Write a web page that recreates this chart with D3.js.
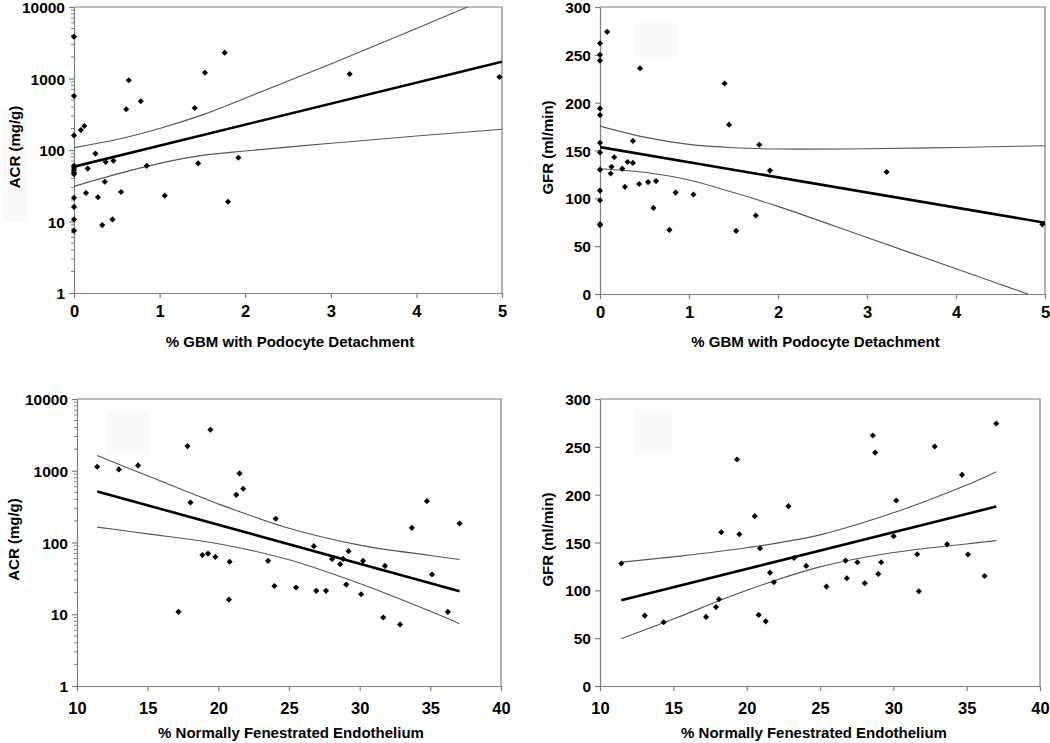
<!DOCTYPE html>
<html>
<head>
<meta charset="utf-8">
<script src="https://cdn.jsdelivr.net/npm/d3@7"></script>
<style>
  html, body { margin: 0; padding: 0; background: #fff; }
  svg { display: block; font-family: "Liberation Sans", Arial, sans-serif; }
</style>
</head>
<body>
<svg id="chart" width="1050" height="743"></svg>
<script>
// ---------------- DATA ----------------
// Panel A: ACR vs % GBM with podocyte detachment
const gbmAcrX = [0,0,0,0,0,0,0,0,0,0,0,0,
  0.08,0.12,0.14,0.16,0.25,0.28,0.33,0.36,0.37,0.46,0.45,0.55,0.61,0.64,0.78,0.85,1.06,1.41,1.45,1.53,1.76,1.80,1.92,3.22,4.97];
const gbmAcrY = [3850,569,160,60,56,52,48,46,21.5,16,10.7,7.4,
  190,217,25,55,89,21.8,8.9,36,68,71,10.7,25.9,371,944,480,60,23,387,65,1207,2297,18.9,78,1156,1050];
const gbmAcrFitX = [0, 5];
const gbmAcrFitY = [58.5, 1720];
const gbmAcrCiX = [0, 0.5, 1, 1.5, 2, 3, 4, 5];
const gbmAcrCiUp = [108, 140, 200, 310, 530, 1600, 5000, 16000];
const gbmAcrCiLo = [31, 46, 65, 84, 97, 124, 157, 195];

// Panel B: GFR vs % GBM with podocyte detachment
const gbmGfrX = [0,0,0,0,0,0,0,0,0,0,0,0,
  0.08,0.12,0.13,0.16,0.25,0.28,0.31,0.37,0.37,0.44,0.45,0.54,0.60,0.63,0.78,0.85,1.05,1.40,1.45,1.53,1.75,1.79,1.91,3.22,4.97];
const gbmGfrY = [262,250,244,194,187,158,148,130,108,98,73,72,
  274,126,133,143,131,112,138,137,160,115,236,117,90,118,67,106,104,220,177,66,82,156,129,127.5,72.8];
const gbmGfrFitX = [0, 5];
const gbmGfrFitY = [153.5, 74.5];
const gbmGfrCiX = [0, 0.5, 1, 1.5, 2, 3, 4, 5];
const gbmGfrCiUp = [175.5, 164, 156.4, 152.9, 151.6, 151.8, 153.2, 155];
const gbmGfrCiLo = [131, 127.2, 119.2, 106, 91.6, 59, 26.5, -6.5];

// Panel C: ACR vs % normally fenestrated endothelium
const fenAcrX = [11.43,12.96,14.32,17.18,17.82,18.03,18.87,19.27,19.44,19.79,20.80,20.75,21.27,21.50,21.76,23.52,23.97,24.06,
  25.5,26.76,26.93,27.62,28.05,28.62,28.83,29.05,29.21,30.10,30.24,31.67,31.79,32.86,33.69,34.76,35.12,36.24,37.07];
const fenAcrY = [1137,1044,1187,10.8,2208,361,67,70,3733,63,54,16,462,918,561,55.5,24.8,214,
  23.6,89,21.2,21.2,59,49.9,59,25.9,75.7,19,55.5,9,47.2,7.2,160,377,35.8,10.8,184];
const fenAcrFitX = [11.43, 37.07];
const fenAcrFitY = [515, 20.9];
const fenAcrCiX = [11.43, 15, 20, 25, 30, 35, 37.07];
const fenAcrCiUp = [1630, 850, 345, 158, 92, 66, 58];
const fenAcrCiLo = [164, 132, 96, 57.5, 26.8, 11, 7.4];

// Panel D: GFR vs % normally fenestrated endothelium
const fenGfrX = [11.45,13.05,14.34,17.23,17.91,18.11,18.27,19.34,19.5,20.55,20.82,20.91,21.3,21.59,21.86,22.85,
  23.23,24.06,25.44,26.74,26.83,27.55,28.05,28.6,28.76,28.97,29.17,30.02,30.2,31.63,31.74,32.82,33.67,34.68,35.09,36.22,37.02];
const fenGfrY = [128,73.6,66.6,72.2,82.6,90.7,160.7,236.8,158.6,177.5,74.3,144,67.6,118.5,108.4,188,
  133.9,125.5,103.9,131.1,112.6,129.4,107.4,261.9,244,117.2,129.4,156.6,193.9,137.7,99,250.3,148.2,220.7,137.4,115,274.4];
const fenGfrFitX = [11.45, 37.02];
const fenGfrFitY = [89.6, 187.6];
const fenGfrCiX = [11.45, 15, 20, 25, 30, 35, 37.02];
const fenGfrCiUp = [129.5, 135, 144.5, 158, 181, 210, 224];
const fenGfrCiLo = [49.5, 70, 100, 124.5, 139.5, 148.5, 152];

// Axis ticks and labels
const gbmTicks = [0, 1, 2, 3, 4, 5];
const fenTicks = [10, 15, 20, 25, 30, 35, 40];
const acrTicks = [1, 10, 100, 1000, 10000];
const gfrTicks = [0, 50, 100, 150, 200, 250, 300];
const gbmTitle = "% GBM with Podocyte Detachment";
const fenTitle = "% Normally Fenestrated Endothelium";
const acrTitle = "ACR (mg/g)";
const gfrTitle = "GFR (ml/min)";

// ---------------- DRAWING ----------------
const svg = d3.select("#chart");
const AXIS = "#7f7f7f";
let clipId = 0;

function panel(c) {
  const x = d3.scaleLinear().domain(c.xDomain).range([c.left, c.right]);
  const y = (c.log ? d3.scaleLog() : d3.scaleLinear()).domain(c.yDomain).range([c.bottom, c.top]);
  const g = svg.append("g");

  // faint background patch present in the original figure
  g.append("rect").attr("x", c.patch[0]).attr("y", c.patch[1])
    .attr("width", c.patch[2]).attr("height", c.patch[3]).attr("fill", "#fafafa");

  // frame (top + right)
  g.append("path")
    .attr("d", `M${c.left},${c.top}H${c.right}V${c.bottom}`)
    .attr("fill", "none").attr("stroke", AXIS).attr("stroke-width", 1.2);

  // x axis
  const xa = g.append("g").attr("transform", `translate(0,${c.bottom})`)
    .call(d3.axisBottom(x).tickValues(c.xTicks).tickSize(5).tickSizeOuter(0).tickPadding(c.xPad).tickFormat(d3.format("d")));
  // y axis
  const ya = g.append("g").attr("transform", `translate(${c.left},0)`)
    .call(d3.axisLeft(y).tickValues(c.yTicks).tickSize(5).tickSizeOuter(0).tickPadding(4).tickFormat(d3.format("d")));
  [xa, ya].forEach(a => {
    a.select(".domain").attr("stroke", AXIS).attr("stroke-width", 1.2);
    a.selectAll(".tick line").attr("stroke", AXIS).attr("stroke-width", 1.2);
    a.selectAll(".tick text").attr("fill", "#000")
      .attr("font-weight", "bold").attr("font-family", '"Liberation Sans", Arial, sans-serif');
  });
  xa.selectAll(".tick text").attr("font-size", "16.5px");
  ya.selectAll(".tick text").attr("font-size", "15.5px").attr("dy", "0.36em");

  // minor log ticks
  if (c.log) {
    const minor = [];
    for (let d = 1; d < 10000; d *= 10) for (let m = 2; m <= 9; m++) minor.push(d * m);
    g.append("g").selectAll("line").data(minor).join("line")
      .attr("x1", c.left - 3).attr("x2", c.left)
      .attr("y1", d => y(d)).attr("y2", d => y(d))
      .attr("stroke", AXIS).attr("stroke-width", 1);
  }

  // clip for lines
  const id = "clip" + (clipId++);
  svg.append("clipPath").attr("id", id).append("rect")
    .attr("x", c.left).attr("y", c.top).attr("width", c.right - c.left).attr("height", c.bottom - c.top);

  const lg = g.append("g").attr("clip-path", `url(#${id})`);
  const line = d3.line().x(d => x(d[0])).y(d => y(d[1])).curve(d3.curveCatmullRom.alpha(0.5));
  lg.append("path").datum(d3.zip(c.ciX, c.ciUp)).attr("d", line)
    .attr("fill", "none").attr("stroke", "#555").attr("stroke-width", 1.1);
  lg.append("path").datum(d3.zip(c.ciX, c.ciLo)).attr("d", line)
    .attr("fill", "none").attr("stroke", "#555").attr("stroke-width", 1.1);
  lg.append("path").datum(d3.zip(c.fitX, c.fitY)).attr("d", d3.line().x(d => x(d[0])).y(d => y(d[1])))
    .attr("fill", "none").attr("stroke", "#000").attr("stroke-width", 2.6);

  // points
  const sym = d3.symbol().type(d3.symbolDiamond2).size(24);
  g.append("g").selectAll("path").data(d3.zip(c.xs, c.ys)).join("path")
    .attr("d", sym)
    .attr("transform", d => `translate(${x(d[0])},${y(d[1])})`)
    .attr("fill", "#000");

  // titles
  g.append("text").attr("x", (c.left + c.right) / 2 + c.titleDx).attr("y", c.bottom + c.titleDy)
    .attr("text-anchor", "middle").attr("font-size", "15px").attr("font-weight", "bold")
    .text(c.xTitle);
  g.append("text")
    .attr("transform", `translate(${c.yTitleX},${(c.top + c.bottom) / 2 - 3}) rotate(-90)`)
    .attr("text-anchor", "middle").attr("font-size", "15px").attr("font-weight", "bold")
    .text(c.yTitle);
}

panel({ left: 74, right: 502, top: 7, bottom: 293, xDomain: [0, 5], yDomain: [1, 10000], log: true,
  xTicks: gbmTicks, yTicks: acrTicks, xs: gbmAcrX, ys: gbmAcrY,
  fitX: gbmAcrFitX, fitY: gbmAcrFitY, ciX: gbmAcrCiX, ciUp: gbmAcrCiUp, ciLo: gbmAcrCiLo,
  xTitle: gbmTitle, yTitle: acrTitle, xPad: 7, titleDx: 2, titleDy: 54, yTitleX: 20, patch: [3, 110, 25, 112] });

panel({ left: 600, right: 1045, top: 7, bottom: 294, xDomain: [0, 5], yDomain: [0, 300], log: false,
  xTicks: gbmTicks, yTicks: gfrTicks, xs: gbmGfrX, ys: gbmGfrY,
  fitX: gbmGfrFitX, fitY: gbmGfrFitY, ciX: gbmGfrCiX, ciUp: gbmGfrCiUp, ciLo: gbmGfrCiLo,
  xTitle: gbmTitle, yTitle: gfrTitle, xPad: 7, titleDx: -7, titleDy: 53, yTitleX: 553, patch: [635, 23, 42, 34] });

panel({ left: 77, right: 501, top: 399, bottom: 686, xDomain: [10, 40], yDomain: [1, 10000], log: true,
  xTicks: fenTicks, yTicks: acrTicks, xs: fenAcrX, ys: fenAcrY,
  fitX: fenAcrFitX, fitY: fenAcrFitY, ciX: fenAcrCiX, ciUp: fenAcrCiUp, ciLo: fenAcrCiLo,
  xTitle: fenTitle, yTitle: acrTitle, xPad: 11, titleDx: 2, titleDy: 52, yTitleX: 19, patch: [107, 411, 42, 44] });

panel({ left: 600, right: 1040, top: 399, bottom: 686, xDomain: [10, 40], yDomain: [0, 300], log: false,
  xTicks: fenTicks, yTicks: gfrTicks, xs: fenGfrX, ys: fenGfrY,
  fitX: fenGfrFitX, fitY: fenGfrFitY, ciX: fenGfrCiX, ciUp: fenGfrCiUp, ciLo: fenGfrCiLo,
  xTitle: fenTitle, yTitle: gfrTitle, xPad: 11, titleDx: -6, titleDy: 52, yTitleX: 553, patch: [635, 409, 37, 46] });
</script>
</body>
</html>
